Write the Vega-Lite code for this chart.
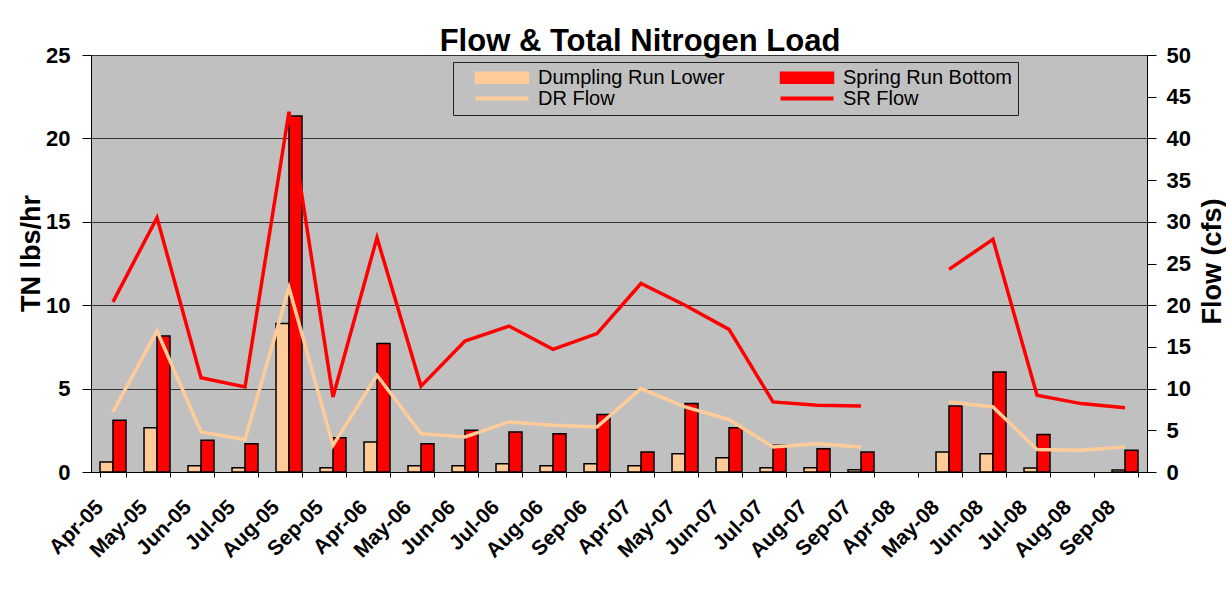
{
  "$schema": "https://vega.github.io/schema/vega-lite/v6.json",
  "width": 1056,
  "height": 417,
  "autosize": {"type": "none"},
  "padding": {"left": 91, "top": 55, "right": 79, "bottom": 128},
  "background": "white",
  "title": {
    "text": "Flow & Total Nitrogen Load",
    "font": "Liberation Sans",
    "fontSize": 31,
    "fontWeight": "bold",
    "color": "black",
    "anchor": "middle",
    "frame": "group",
    "baseline": "alphabetic",
    "offset": 6,
    "dx": 21,
    "dy": 44
  },
  "config": {
    "view": {"fill": "#c0c0c0", "stroke": "#808080", "strokeWidth": 1},
    "axis": {
      "labelFont": "Liberation Sans",
      "labelFontWeight": "bold",
      "labelColor": "black",
      "titleFont": "Liberation Sans",
      "titleFontWeight": "bold",
      "titleColor": "black",
      "domainColor": "black",
      "domainWidth": 1,
      "tickColor": "black",
      "tickWidth": 1
    },
    "legend": {
      "orient": "none",
      "legendX": 362,
      "legendY": 7,
      "direction": "vertical",
      "columns": 2,
      "columnPadding": 39,
      "rowPadding": 0,
      "gridAlign": "all",
      "symbolSize": 100,
      "symbolStrokeWidth": 1.5,
      "clipHeight": 19,
      "symbolOffset": 33,
      "labelFont": "Liberation Sans",
      "labelFontSize": 20,
      "labelColor": "black",
      "labelOffset": 26,
      "labelLimit": 400,
      "fillColor": "#c0c0c0",
      "strokeColor": "#222222",
      "padding": 6,
      "title": null
    }
  },
  "datasets": {
    "tn": [
      {"month": "Apr-05", "series": "Dumpling Run Lower", "tn": 0.6},
      {"month": "Apr-05", "series": "Spring Run Bottom", "tn": 3.1},
      {"month": "May-05", "series": "Dumpling Run Lower", "tn": 2.65},
      {"month": "May-05", "series": "Spring Run Bottom", "tn": 8.15},
      {"month": "Jun-05", "series": "Dumpling Run Lower", "tn": 0.38},
      {"month": "Jun-05", "series": "Spring Run Bottom", "tn": 1.9},
      {"month": "Jul-05", "series": "Dumpling Run Lower", "tn": 0.26},
      {"month": "Jul-05", "series": "Spring Run Bottom", "tn": 1.7},
      {"month": "Aug-05", "series": "Dumpling Run Lower", "tn": 8.9},
      {"month": "Aug-05", "series": "Spring Run Bottom", "tn": 21.35},
      {"month": "Sep-05", "series": "Dumpling Run Lower", "tn": 0.26},
      {"month": "Sep-05", "series": "Spring Run Bottom", "tn": 2.05},
      {"month": "Apr-06", "series": "Dumpling Run Lower", "tn": 1.8},
      {"month": "Apr-06", "series": "Spring Run Bottom", "tn": 7.7},
      {"month": "May-06", "series": "Dumpling Run Lower", "tn": 0.38},
      {"month": "May-06", "series": "Spring Run Bottom", "tn": 1.7},
      {"month": "Jun-06", "series": "Dumpling Run Lower", "tn": 0.38},
      {"month": "Jun-06", "series": "Spring Run Bottom", "tn": 2.5},
      {"month": "Jul-06", "series": "Dumpling Run Lower", "tn": 0.5},
      {"month": "Jul-06", "series": "Spring Run Bottom", "tn": 2.4},
      {"month": "Aug-06", "series": "Dumpling Run Lower", "tn": 0.38},
      {"month": "Aug-06", "series": "Spring Run Bottom", "tn": 2.3},
      {"month": "Sep-06", "series": "Dumpling Run Lower", "tn": 0.5},
      {"month": "Sep-06", "series": "Spring Run Bottom", "tn": 3.45},
      {"month": "Apr-07", "series": "Dumpling Run Lower", "tn": 0.38},
      {"month": "Apr-07", "series": "Spring Run Bottom", "tn": 1.2},
      {"month": "May-07", "series": "Dumpling Run Lower", "tn": 1.1},
      {"month": "May-07", "series": "Spring Run Bottom", "tn": 4.1},
      {"month": "Jun-07", "series": "Dumpling Run Lower", "tn": 0.85},
      {"month": "Jun-07", "series": "Spring Run Bottom", "tn": 2.65},
      {"month": "Jul-07", "series": "Dumpling Run Lower", "tn": 0.26},
      {"month": "Jul-07", "series": "Spring Run Bottom", "tn": 1.6},
      {"month": "Aug-07", "series": "Dumpling Run Lower", "tn": 0.26},
      {"month": "Aug-07", "series": "Spring Run Bottom", "tn": 1.4},
      {"month": "Sep-07", "series": "Dumpling Run Lower", "tn": 0.14},
      {"month": "Sep-07", "series": "Spring Run Bottom", "tn": 1.2},
      {"month": "May-08", "series": "Dumpling Run Lower", "tn": 1.2},
      {"month": "May-08", "series": "Spring Run Bottom", "tn": 3.95},
      {"month": "Jun-08", "series": "Dumpling Run Lower", "tn": 1.1},
      {"month": "Jun-08", "series": "Spring Run Bottom", "tn": 6.0},
      {"month": "Jul-08", "series": "Dumpling Run Lower", "tn": 0.24},
      {"month": "Jul-08", "series": "Spring Run Bottom", "tn": 2.25},
      {"month": "Sep-08", "series": "Dumpling Run Lower", "tn": 0.12},
      {"month": "Sep-08", "series": "Spring Run Bottom", "tn": 1.3}
    ],
    "flow": [
      {"month": "Apr-05", "series": "DR Flow", "flow": 7.2},
      {"month": "May-05", "series": "DR Flow", "flow": 16.9},
      {"month": "Jun-05", "series": "DR Flow", "flow": 4.8},
      {"month": "Jul-05", "series": "DR Flow", "flow": 3.9},
      {"month": "Aug-05", "series": "DR Flow", "flow": 22.1},
      {"month": "Sep-05", "series": "DR Flow", "flow": 3.2},
      {"month": "Apr-06", "series": "DR Flow", "flow": 11.6},
      {"month": "May-06", "series": "DR Flow", "flow": 4.6},
      {"month": "Jun-06", "series": "DR Flow", "flow": 4.2},
      {"month": "Jul-06", "series": "DR Flow", "flow": 6.0},
      {"month": "Aug-06", "series": "DR Flow", "flow": 5.6},
      {"month": "Sep-06", "series": "DR Flow", "flow": 5.4},
      {"month": "Apr-07", "series": "DR Flow", "flow": 10.0},
      {"month": "May-07", "series": "DR Flow", "flow": 7.8},
      {"month": "Jun-07", "series": "DR Flow", "flow": 6.3},
      {"month": "Jul-07", "series": "DR Flow", "flow": 3.0},
      {"month": "Aug-07", "series": "DR Flow", "flow": 3.4},
      {"month": "Sep-07", "series": "DR Flow", "flow": 3.0},
      {"month": "Apr-08", "series": "DR Flow", "flow": null},
      {"month": "May-08", "series": "DR Flow", "flow": 8.4},
      {"month": "Jun-08", "series": "DR Flow", "flow": 7.8},
      {"month": "Jul-08", "series": "DR Flow", "flow": 2.7},
      {"month": "Aug-08", "series": "DR Flow", "flow": 2.6},
      {"month": "Sep-08", "series": "DR Flow", "flow": 3.0},
      {"month": "Apr-05", "series": "SR Flow", "flow": 20.4},
      {"month": "May-05", "series": "SR Flow", "flow": 30.5},
      {"month": "Jun-05", "series": "SR Flow", "flow": 11.3},
      {"month": "Jul-05", "series": "SR Flow", "flow": 10.2},
      {"month": "Aug-05", "series": "SR Flow", "flow": 43.2},
      {"month": "Sep-05", "series": "SR Flow", "flow": 9.0},
      {"month": "Apr-06", "series": "SR Flow", "flow": 28.1},
      {"month": "May-06", "series": "SR Flow", "flow": 10.3},
      {"month": "Jun-06", "series": "SR Flow", "flow": 15.7},
      {"month": "Jul-06", "series": "SR Flow", "flow": 17.5},
      {"month": "Aug-06", "series": "SR Flow", "flow": 14.7},
      {"month": "Sep-06", "series": "SR Flow", "flow": 16.6},
      {"month": "Apr-07", "series": "SR Flow", "flow": 22.6},
      {"month": "May-07", "series": "SR Flow", "flow": 20.0},
      {"month": "Jun-07", "series": "SR Flow", "flow": 17.1},
      {"month": "Jul-07", "series": "SR Flow", "flow": 8.4},
      {"month": "Aug-07", "series": "SR Flow", "flow": 8.0},
      {"month": "Sep-07", "series": "SR Flow", "flow": 7.9},
      {"month": "Apr-08", "series": "SR Flow", "flow": null},
      {"month": "May-08", "series": "SR Flow", "flow": 24.3},
      {"month": "Jun-08", "series": "SR Flow", "flow": 27.9},
      {"month": "Jul-08", "series": "SR Flow", "flow": 9.2},
      {"month": "Aug-08", "series": "SR Flow", "flow": 8.2},
      {"month": "Sep-08", "series": "SR Flow", "flow": 7.7}
    ]
  },
  "encoding": {
    "x": {
      "field": "month",
      "type": "nominal",
      "sort": null,
      "scale": {
        "type": "band",
        "domain": ["Apr-05", "May-05", "Jun-05", "Jul-05", "Aug-05", "Sep-05", "Apr-06", "May-06", "Jun-06", "Jul-06", "Aug-06", "Sep-06", "Apr-07", "May-07", "Jun-07", "Jul-07", "Aug-07", "Sep-07", "Apr-08", "May-08", "Jun-08", "Jul-08", "Aug-08", "Sep-08"],
        "paddingInner": 0.41,
        "paddingOuter": 0.205
      },
      "axis": {
        "title": null,
        "grid": false,
        "labelAngle": -45,
        "labelAlign": "right",
        "labelBaseline": "top",
        "labelPadding": 19,
        "labelOffset": -21,
        "labelFontSize": 21,
        "tickBand": "extent",
        "tickSize": 5
      }
    }
  },
  "layer": [
    {
      "data": {"name": "tn"},
      "mark": {"type": "bar", "stroke": "black", "strokeWidth": 1.5, "strokeJoin": "miter"},
      "encoding": {
        "xOffset": {
          "field": "series",
          "type": "nominal",
          "scale": {"domain": ["Dumpling Run Lower", "Spring Run Bottom"], "paddingInner": 0, "paddingOuter": 0}
        },
        "y": {
          "field": "tn",
          "type": "quantitative",
          "scale": {"domain": [0, 25], "nice": false},
          "axis": {
            "orient": "left",
            "values": [0, 5, 10, 15, 20, 25],
            "grid": true,
            "gridColor": "#333333",
            "gridWidth": 1,
            "tickSize": 9,
            "labelPadding": 12,
            "labelFontSize": 22,
            "title": "TN lbs/hr",
            "titleFontSize": 27,
            "titleBaseline": "alphabetic",
            "titleX": -52,
            "titleY": 198
          }
        },
        "color": {
          "field": "series",
          "type": "nominal",
          "scale": {
            "domain": ["Dumpling Run Lower", "DR Flow", "Spring Run Bottom", "SR Flow"],
            "range": ["#FFCC99", "#FFCC99", "#FF0000", "#FF0000"]
          },
          "legend": {
            "symbolSize": 100,
            "symbolOffset": 33,
            "labelOffset": 26,
            "encode": {
              "symbols": {
                "update": {
                  "size": {"value": 100},
                  "shape": {"signal": "indexof(['DR Flow','SR Flow'], datum.value) >= 0 ? 'M-5.3,0H5.3' : 'M-5.3,-1.1H5.3V1.1H-5.3Z'"},
                  "stroke": {"signal": "indexof(['DR Flow','SR Flow'], datum.value) >= 0 ? scale('color', datum.value) : 'black'"},
                  "strokeWidth": {"signal": "indexof(['DR Flow','SR Flow'], datum.value) >= 0 ? 4 : 1.5"},
                  "fill": {"signal": "indexof(['DR Flow','SR Flow'], datum.value) >= 0 ? 'transparent' : scale('color', datum.value)"},
                  "opacity": {"value": 1},
                  "fillOpacity": {"value": 1},
                  "strokeOpacity": {"value": 1}
                }
              }
            }
          }
        }
      }
    },
    {
      "data": {"name": "flow"},
      "mark": {"type": "line", "strokeWidth": 3.5, "invalid": "break-paths-show-domains"},
      "encoding": {
        "y": {
          "field": "flow",
          "type": "quantitative",
          "scale": {"domain": [0, 50], "nice": false},
          "axis": {
            "orient": "right",
            "values": [0, 5, 10, 15, 20, 25, 30, 35, 40, 45, 50],
            "grid": false,
            "tickSize": 9,
            "labelPadding": 10,
            "labelFontSize": 22,
            "title": "Flow (cfs)",
            "titleFontSize": 27,
            "titleAngle": 270,
            "titleBaseline": "alphabetic",
            "titleX": 73,
            "titleY": 206
          }
        },
        "color": {
          "field": "series",
          "type": "nominal",
          "legend": {
            "symbolSize": 100,
            "symbolOffset": 33,
            "labelOffset": 26,
            "encode": {
              "symbols": {
                "update": {
                  "size": {"value": 100},
                  "shape": {"signal": "indexof(['DR Flow','SR Flow'], datum.value) >= 0 ? 'M-5.3,0H5.3' : 'M-5.3,-1.1H5.3V1.1H-5.3Z'"},
                  "stroke": {"signal": "indexof(['DR Flow','SR Flow'], datum.value) >= 0 ? scale('color', datum.value) : 'black'"},
                  "strokeWidth": {"signal": "indexof(['DR Flow','SR Flow'], datum.value) >= 0 ? 4 : 1.5"},
                  "fill": {"signal": "indexof(['DR Flow','SR Flow'], datum.value) >= 0 ? 'transparent' : scale('color', datum.value)"},
                  "opacity": {"value": 1},
                  "fillOpacity": {"value": 1},
                  "strokeOpacity": {"value": 1}
                }
              }
            }
          }
        }
      }
    }
  ],
  "resolve": {"scale": {"y": "independent"}}
}
